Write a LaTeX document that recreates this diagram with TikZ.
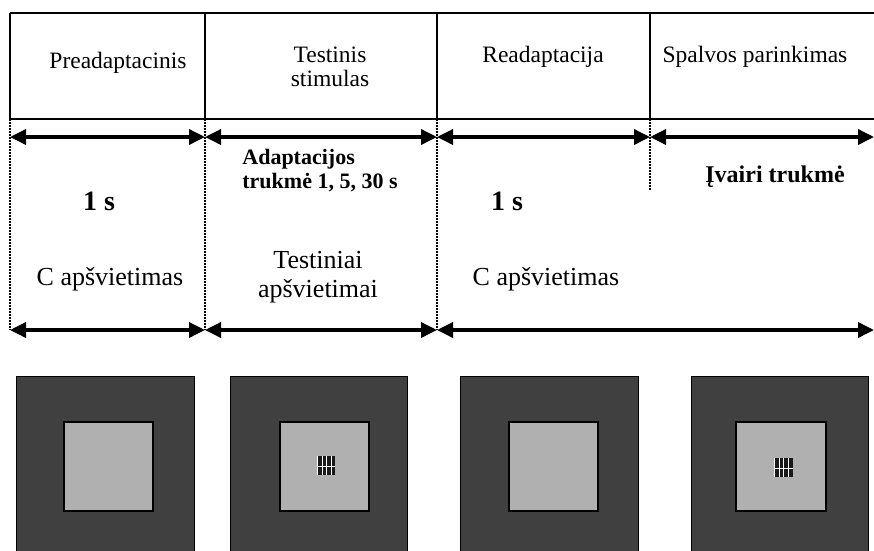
\documentclass[tikz,border=0pt]{standalone}
\usepackage{fontspec}
\setmainfont{Liberation Serif}
\usetikzlibrary{arrows.meta}

\tikzset{
	frame/.style={line width=1.5pt},
	guide/.style={line width=1.5pt, dash pattern=on 1.5pt off 1.5pt},
	dim/.style={line width=3.5pt, {Triangle[length=16pt,width=15pt]}-{Triangle[length=16pt,width=15pt]}},
	hdr/.style={inner sep=0pt, anchor=base, font=\fontsize{23.5}{24}\selectfont},
	txt/.style={inner sep=0pt, anchor=base, font=\fontsize{26}{29}\selectfont},
	dur/.style={inner sep=0pt, anchor=base, font=\fontsize{28}{30}\selectfont\bfseries},
	note/.style={inner sep=0pt, anchor=base, font=\fontsize{22}{24}\selectfont\bfseries},
	surround/.style={fill=black!75, draw=black, line width=1pt},
	field/.style={fill=black!31, draw=black, line width=2pt},
	grating/.style={fill=black!90, draw=none}
}

\begin{document}
\begin{tikzpicture}[x=1pt, y=-1pt]
	\useasboundingbox (0,0) rectangle (874,550);

	% stage table
	\coordinate (t0) at (10,13);
	\coordinate (t1) at (205,13);
	\coordinate (t2) at (437,13);
	\coordinate (t3) at (650,13);
	\coordinate (t4) at (874,13);
	\coordinate (b0) at (10,119);
	\coordinate (b1) at (205,119);
	\coordinate (b2) at (437,119);
	\coordinate (b3) at (650,119);
	\coordinate (b4) at (874,119);

	\draw [frame] (t0) -- (t4);
	\draw [frame] (b0) -- (b4);
	\draw [frame] (t0) -- (b0);
	\draw [frame] (t1) -- (b1);
	\draw [frame] (t2) -- (b2);
	\draw [frame] (t3) -- (b3);

	\node[hdr] (preadapt) at (118,68) {Preadaptacinis};
	\node[hdr, align=center] (test) at (330,86) {Testinis\\stimulas};
	\node[hdr] (readapt) at (543,62) {Readaptacija};
	\node[hdr] (colour) at (755,62) {Spalvos parinkimas};

	% time guides
	\coordinate (g0) at (10,330);
	\coordinate (g1) at (205,330);
	\coordinate (g2) at (437,330);
	\coordinate (g3) at (650,191);

	\draw [guide] (b0) -- (g0);
	\draw [guide] (b1) -- (g1);
	\draw [guide] (b2) -- (g2);
	\draw [guide] (b3) -- (g3);

	% durations
	\coordinate (u0) at (10,137);
	\coordinate (u1) at (205,137);
	\coordinate (u2) at (437,137);
	\coordinate (u3) at (650,137);
	\coordinate (u4) at (874,137);
	\coordinate (l4) at (874,330);

	\path [dim] (u0) edge (u1);
	\path [dim] (u1) edge (u2);
	\path [dim] (u2) edge (u3);
	\path [dim] (u3) edge (u4);
	\path [dim] (g0) edge (g1);
	\path [dim] (g1) edge (g2);
	\path [dim] (g2) edge (l4);

	\node[dur] (pretime) at (99,210) {1 s};
	\node[note, align=left] (adapttime) at (320,188) {Adaptacijos\\trukmė 1, 5, 30 s};
	\node[dur] (retime) at (507,210) {1 s};
	\node[note, font=\fontsize{24}{26}\selectfont\bfseries] (anytime) at (775,182) {Įvairi trukmė};

	\node[txt] (prelight) at (110,285) {C apšvietimas};
	\node[txt, align=center] (testlight) at (318,297) {Testiniai\\apšvietimai};
	\node[txt] (relight) at (546,285) {C apšvietimas};

	% screens
	\draw [surround] (16,376) rectangle (194,552);
	\draw [surround] (230,376) rectangle (407,552);
	\draw [surround] (460,376) rectangle (638,552);
	\draw [surround] (691,376) rectangle (868,552);

	\draw [field] (64,422) rectangle (153,511);
	\draw [field] (280,422) rectangle (369,511);
	\draw [field] (509,422) rectangle (598,511);
	\draw [field] (736,422) rectangle (826,511);

	\fill [grating] (317,456) rectangle (335,475);
	\draw [white, line width=0.8pt] (317.5,456) -- (317.5,475) (322,456) -- (322,475)
		(326.5,456) -- (326.5,475) (331,456) -- (331,475) (317,466) -- (335,466);
	\fill [grating] (774,458) rectangle (793,477);
	\draw [white, line width=0.8pt] (774.5,458) -- (774.5,477) (779,458) -- (779,477)
		(783.5,458) -- (783.5,477) (788,458) -- (788,477) (774,468) -- (793,468);
\end{tikzpicture}
\end{document}
